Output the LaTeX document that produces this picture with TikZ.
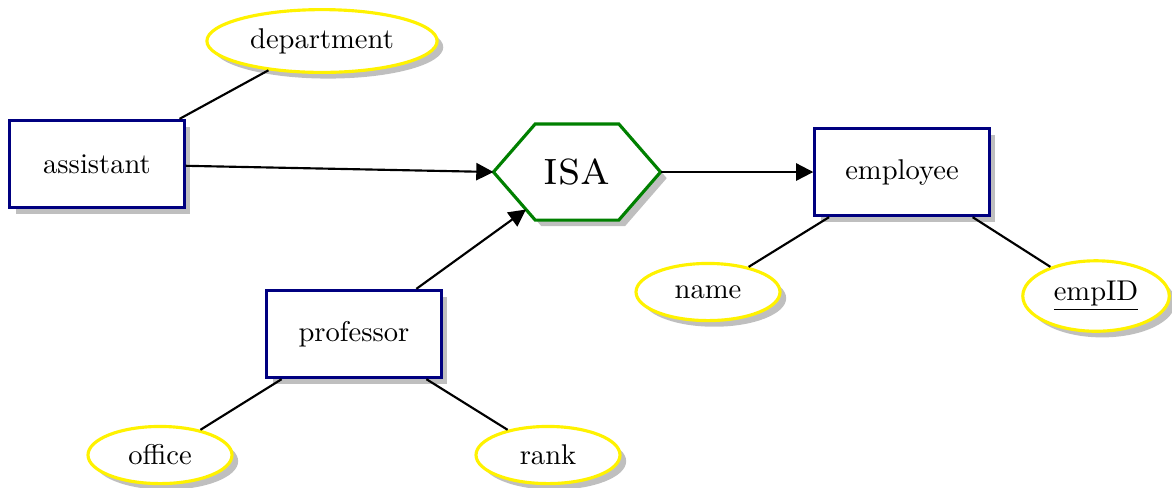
\documentclass[tikz,border=0pt]{standalone}
\usetikzlibrary{shadows,calc,arrows.meta,backgrounds,shapes.geometric}
\begin{document}
\begin{tikzpicture}[x=0.35pt,y=-0.35pt,
  attr/.style={ellipse,draw=yellow,line width=1.1pt,fill=white,drop shadow,minimum width=50.4pt,minimum height=20pt},
  entity/.style={rectangle,draw=blue!50!black,line width=1.1pt,fill=white,drop shadow,minimum width=61pt,minimum height=30.5pt},
  link/.style={line width=0.75pt},
  arr/.style={line width=0.75pt,-{Triangle[length=6pt,width=6pt]}}]
\useasboundingbox (0,0) rectangle (1172,487);
\node[entity] (assistant) at (97,164) {assistant};
\node[entity] (employee) at (902,172) {employee};
\node[entity] (professor) at (354,334) {professor};
\node[attr] (department) at (322,41) {department};
\node[attr] (name) at (708,292) {name};
\node[attr] (empid) at (1096,296) {\underline{empID}};
\node[attr] (office) at (160,455) {office};
\node[attr] (rank) at (548,455) {rank};
\node[minimum width=58.1pt,minimum height=33.25pt,inner sep=0pt] (isa) at (577,172) {\fontsize{17}{20}\selectfont\textsc{isa}};
\coordinate (hNW) at ($(isa.north west)!0.25!(isa.north east)$);
\coordinate (hNE) at ($(isa.north west)!0.75!(isa.north east)$);
\coordinate (hSW) at ($(isa.south west)!0.25!(isa.south east)$);
\coordinate (hSE) at ($(isa.south west)!0.75!(isa.south east)$);
\coordinate (isaP) at ($(isa.west)!0.78!(hSW)$);
\begin{scope}[on background layer]
\draw[draw=green!50!black,line width=1.1pt,fill=white,drop shadow] (isa.west) -- (hNW) -- (hNE) -- (isa.east) -- (hSE) -- (hSW) -- cycle;
\end{scope}
\draw[arr] (assistant) -- (isa.west);
\draw[arr] (isa.east) -- (employee);
\draw[arr] (professor) -- (isaP);
\draw[link] (assistant) -- (department);
\draw[link] (employee) -- (name);
\draw[link] (employee) -- (empid);
\draw[link] (professor) -- (office);
\draw[link] (professor) -- (rank);
\end{tikzpicture}
\end{document}
